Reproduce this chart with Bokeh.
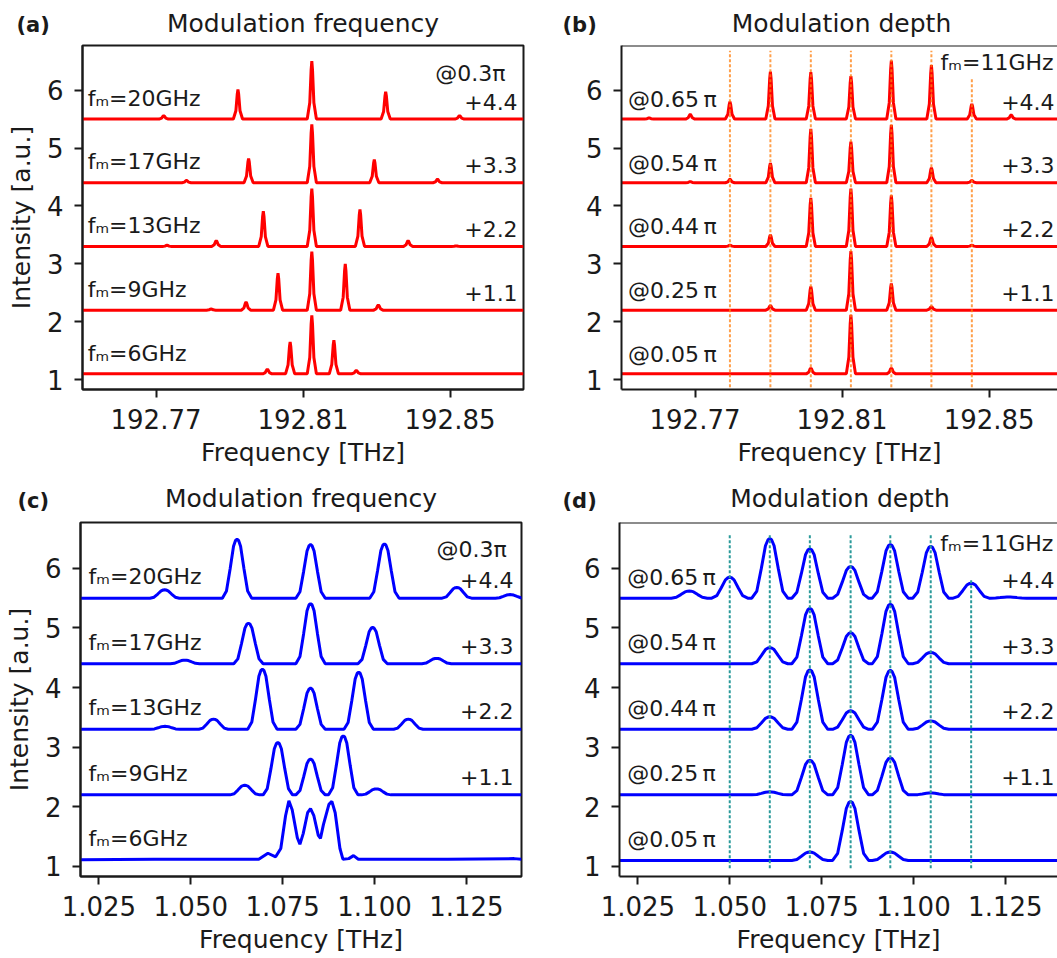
from bokeh.plotting import figure
from bokeh.layouts import column, row
from bokeh.models import FixedTicker, Range1d, Span, PrintfTickFormatter
from bokeh.core.properties import value
from bokeh.embed import file_html
from bokeh.resources import INLINE

FONT = "DejaVu Sans"
INK = "#1a1a1a"

# ---------------- data ----------------
trace_baselines = [5.5, 4.4, 3.3, 2.2, 1.1]
offset_labels = ["+4.4", "+3.3", "+2.2", "+1.1"]
y_ticks = [1, 2, 3, 4, 5, 6]
panel_letters = ["(a)", "(b)", "(c)", "(d)"]
panel_titles = ["Modulation frequency", "Modulation depth", "Modulation frequency", "Modulation depth"]

a_labels = ["fₘ=20GHz", "fₘ=17GHz", "fₘ=13GHz", "fₘ=9GHz", "fₘ=6GHz"]
a_peak_x = [
    [192.7721, 192.7923, 192.8124, 192.8325, 192.8526],
    [192.7783, 192.7952, 192.8124, 192.8294, 192.8466],
    [192.7730, 192.7864, 192.7992, 192.8124, 192.8255, 192.8386, 192.8517],
    [192.7850, 192.7945, 192.8032, 192.8124, 192.8215, 192.8305],
    [192.8003, 192.8065, 192.8124, 192.8184, 192.8245],
]
a_peak_y = [
    [5.56, 6.01, 6.50, 5.97, 5.56],
    [4.44, 4.82, 5.41, 4.80, 4.46],
    [3.32, 3.40, 3.91, 4.30, 3.94, 3.40, 3.31],
    [2.22, 2.34, 2.84, 3.21, 3.00, 2.29],
    [1.18, 1.65, 2.11, 1.68, 1.16],
]

b_labels = ["@0.65\u2009π", "@0.54\u2009π", "@0.44\u2009π", "@0.25\u2009π", "@0.05\u2009π"]
b_peak_x = [
    [192.7575, 192.7687, 192.7795, 192.7905, 192.8015, 192.8124, 192.8234, 192.8343, 192.8453, 192.8560],
    [192.7687, 192.7795, 192.7905, 192.8015, 192.8124, 192.8234, 192.8343, 192.8453],
    [192.7795, 192.7905, 192.8015, 192.8124, 192.8234, 192.8343, 192.8453],
    [192.7905, 192.8015, 192.8124, 192.8234, 192.8343],
    [192.8015, 192.8124, 192.8234],
]
b_peak_y = [
    [5.52, 5.58, 5.80, 6.32, 6.31, 6.24, 6.51, 6.43, 5.76, 5.57],
    [4.42, 4.46, 4.74, 5.33, 5.11, 5.40, 4.66, 4.44],
    [3.32, 3.50, 4.14, 4.30, 4.18, 3.46, 3.32],
    [2.28, 2.61, 3.22, 2.66, 2.26],
    [1.20, 2.12, 1.20],
]
b_lines_x = [192.7795, 192.7905, 192.8015, 192.8124, 192.8234, 192.8343, 192.8453]
b_lines_bottom = [0.87, 0.87, 0.87, 0.87, 0.87, 0.87, 0.87]
b_lines_top = [6.68, 6.68, 6.68, 6.68, 6.68, 6.68, 6.21]

c_labels = ["fₘ=20GHz", "fₘ=17GHz", "fₘ=13GHz", "fₘ=9GHz", "fₘ=6GHz"]
c_peak_x = [
    [1.0429, 1.0626, 1.0826, 1.1027, 1.1224, 1.1369],
    [1.0484, 1.0657, 1.0826, 1.0995, 1.1169],
    [1.0430, 1.0562, 1.0695, 1.0826, 1.0957, 1.1092],
    [1.0647, 1.0737, 1.0826, 1.0915, 1.1005],
    [],
]
c_peak_y = [
    [5.64, 6.49, 6.40, 6.41, 5.68, 5.56],
    [4.46, 5.08, 5.41, 5.01, 4.49],
    [3.35, 3.47, 4.31, 3.99, 4.26, 3.47],
    [2.36, 3.08, 2.80, 3.19, 2.30],
    [],
]
# fm=6GHz trace: overlapping peaks, read vertex by vertex
c_fm6_x = [1.0200, 1.0400, 1.0600, 1.0685, 1.0710, 1.0731, 1.0745, 1.0758, 1.0767, 1.0776,
           1.0790, 1.0797, 1.0806, 1.0818, 1.0826, 1.0835, 1.0847, 1.0853, 1.0861, 1.0876,
           1.0884, 1.0893, 1.0906, 1.0914, 1.0930, 1.0943, 1.0956, 1.1200, 1.1380, 1.1400]
c_fm6_y = [1.11, 1.12, 1.12, 1.12, 1.22, 1.16, 1.30, 1.85, 2.10, 1.95,
           1.48, 1.37, 1.55, 1.90, 1.97, 1.85, 1.52, 1.47, 1.70, 2.04,
           2.09, 1.90, 1.30, 1.12, 1.13, 1.18, 1.12, 1.12, 1.13, 1.12]

d_labels = ["@0.65\u2009π", "@0.54\u2009π", "@0.44\u2009π", "@0.25\u2009π", "@0.05\u2009π"]
d_peak_x = [
    [1.0390, 1.0500, 1.0609, 1.0718, 1.0829, 1.0937, 1.1047, 1.1157, 1.1259],
    [1.0609, 1.0718, 1.0829, 1.0937, 1.1047],
    [1.0609, 1.0718, 1.0829, 1.0937, 1.1047],
    [1.0609, 1.0718, 1.0829, 1.0937, 1.1047],
    [1.0718, 1.0829, 1.0937],
]
d_peak_y = [
    [5.62, 5.85, 6.50, 6.33, 6.03, 6.40, 6.37, 5.75, 5.52],
    [4.67, 5.33, 4.92, 5.40, 4.59],
    [3.51, 4.30, 3.61, 4.29, 3.44],
    [2.25, 2.78, 3.20, 2.82, 2.23],
    [1.24, 2.09, 1.24],
]
d_lines_x = [1.0500, 1.0609, 1.0718, 1.0829, 1.0937, 1.1047, 1.1157]
d_lines_bottom = [0.97, 0.97, 0.97, 0.97, 0.97, 0.97, 0.97]
d_lines_top = [6.58, 6.58, 6.58, 6.58, 6.58, 6.58, 5.80]

# ---------------- drawing helpers ----------------
SHAPE_NARROW = [(-1.0, 0.0), (-0.45, 0.28), (-0.15, 0.85), (0.0, 1.0), (0.15, 0.85), (0.45, 0.28), (1.0, 0.0)]
SHAPE_BROAD = [(-1.0, 0.0), (-0.72, 0.12), (-0.47, 0.5), (-0.24, 0.88), (-0.1, 0.98), (0.0, 1.0),
               (0.1, 0.98), (0.24, 0.88), (0.47, 0.5), (0.72, 0.12), (1.0, 0.0)]


def trace_xy(base, px, py, hw, shape, x0, x1):
    xs, ys = [x0], [base]
    for c, t in zip(px, py):
        for f, g in shape:
            xs.append(c + f * hw)
            ys.append(base + g * (t - base))
    xs.append(x1)
    ys.append(base)
    return xs, ys


Y_RANGE = (0.83, 6.77)


def make_header(height, letters, letter_x, letter_mid, titles, title_x, title_mid):
    # a text-only strip: x in pixels from the left, y in pixels down from the top
    h = figure(width=1057, height=height, x_range=Range1d(0, 1057), y_range=Range1d(0, height),
               x_axis_type=None, y_axis_type=None, min_border=0, output_backend="svg",
               toolbar_location=None)
    h.outline_line_color = None
    h.background_fill_color = "white"
    h.border_fill_color = "white"
    h.text(x=letter_x, y=[height - letter_mid] * len(letters), text=letters, text_font=value(FONT),
           text_font_size="21px", text_font_style="bold", text_color=INK,
           text_align="left", text_baseline="middle")
    h.text(x=title_x, y=[height - title_mid] * len(titles), text=titles, text_font=value(FONT),
           text_font_size="25px", text_color=INK, text_align="center", text_baseline="middle")
    return h


def make_panel(width, height, left, right, top, bottom, xr, xticks, xfmt, ylabel, outline):
    p = figure(width=width, height=height, x_range=Range1d(*xr), y_range=Range1d(*Y_RANGE),
               output_backend="svg", toolbar_location=None,
               min_border_left=left, min_border_right=right,
               min_border_top=top, min_border_bottom=bottom)
    p.xgrid.visible = False
    p.ygrid.visible = False
    p.background_fill_color = "white"
    p.border_fill_color = "white"
    if outline:
        p.outline_line_color = INK
        p.outline_line_width = 2
        p.outline_line_alpha = 1.0
    else:
        p.outline_line_color = None
        p.add_layout(Span(location=Y_RANGE[1], dimension="width", line_color=INK, line_width=2))
    p.xaxis.ticker = FixedTicker(ticks=xticks)
    p.xaxis.formatter = PrintfTickFormatter(format=xfmt)
    p.yaxis.ticker = FixedTicker(ticks=y_ticks)
    for ax in (p.xaxis[0], p.yaxis[0]):
        ax.major_label_text_font = FONT
        ax.major_label_text_font_size = "26px"
        ax.major_label_text_color = INK
        ax.axis_label_text_font = FONT
        ax.axis_label_text_font_size = "25px"
        ax.axis_label_text_font_style = "normal"
        ax.axis_label_text_color = INK
        ax.axis_line_width = 2
        ax.axis_line_color = INK
        ax.major_tick_line_width = 2
        ax.major_tick_line_color = INK
        ax.major_tick_out = 8
        ax.major_tick_in = 0
        ax.minor_tick_line_color = None
    p.yaxis.major_label_standoff = 11
    p.xaxis.major_label_standoff = 11
    p.xaxis.axis_label = "Frequency [THz]"
    p.xaxis.axis_label_standoff = 6
    if ylabel:
        p.yaxis.axis_label = ylabel
        p.yaxis.axis_label_standoff = 8
    return p


def add_texts(p, xs, ys, texts, align):
    p.text(x=xs, y=ys, text=texts, text_font=value(FONT), text_font_size="22px",
           text_align=align, text_baseline="middle", text_color=INK)


# ---------------- headers (panel letters and titles) ----------------
head1 = make_header(44, panel_letters[:2], [16, 562], 24, panel_titles[:2], [302.5, 841], 23)
head2 = make_header(51, panel_letters[2:], [17, 562], 30, panel_titles[2:], [300.5, 839.5], 28)

# ---------------- (a) ----------------
AX = (192.75, 192.87)
pa = make_panel(527, 426, 82, 4, 1, 81, AX, [192.77, 192.81, 192.85], "%.2f", "Intensity [a.u.]", True)
for base, px, py in zip(trace_baselines, a_peak_x, a_peak_y):
    xs, ys = trace_xy(base, px, py, 0.00125, SHAPE_NARROW, AX[0], AX[1])
    pa.line(xs, ys, line_color="#ff0000", line_width=3)
add_texts(pa, [192.7514] * 5, [b + 0.36 for b in trace_baselines], a_labels, "left")
add_texts(pa, [192.8684] * 4, [b + 0.30 for b in trace_baselines[:4]], offset_labels, "right")
add_texts(pa, [192.8651], [6.29], ["@0.3π"], "right")

# ---------------- (b) ----------------
BX = (192.75, 192.8686)
pb = make_panel(530, 426, 94, 0, 1, 81, BX, [192.77, 192.81, 192.85], "%.2f", None, False)
for base, px, py in zip(trace_baselines, b_peak_x, b_peak_y):
    xs, ys = trace_xy(base, px, py, 0.00125, SHAPE_NARROW, BX[0], BX[1])
    pb.line(xs, ys, line_color="#ff0000", line_width=3)
pb.segment(x0=b_lines_x, y0=b_lines_bottom, x1=b_lines_x, y1=b_lines_top,
           line_color="#ff7f0e", line_alpha=0.75, line_width=2, line_dash="3 2")
add_texts(pb, [192.7518] * 5, [b + 0.34 for b in trace_baselines], b_labels, "left")
add_texts(pb, [192.8678] * 4, [b + 0.30 for b in trace_baselines[:4]], offset_labels, "right")
add_texts(pb, [192.8368], [6.47], ["fₘ=11GHz"], "left")

# ---------------- (c) ----------------
CX = (1.020, 1.140)
pc = make_panel(527, 437, 80, 6, 1, 82, CX, [1.025, 1.050, 1.075, 1.100, 1.125], "%.3f",
                "Intensity [a.u.]", True)
for base, px, py in zip(trace_baselines, c_peak_x, c_peak_y):
    if px:
        xs, ys = trace_xy(base, px, py, 0.0040, SHAPE_BROAD, CX[0], CX[1])
    else:
        xs, ys = c_fm6_x, c_fm6_y
    pc.line(xs, ys, line_color="#0000ff", line_width=3)
add_texts(pc, [1.0222] * 5, [b + 0.36 for b in trace_baselines], c_labels, "left")
add_texts(pc, [1.1378] * 4, [b + 0.30 for b in trace_baselines[:4]], offset_labels, "right")
add_texts(pc, [1.1360], [6.32], ["@0.3π"], "right")

# ---------------- (d) ----------------
DX = (1.020, 1.1392)
pd = make_panel(530, 437, 92, 0, 1, 82, DX, [1.025, 1.050, 1.075, 1.100, 1.125], "%.3f", None, False)
for base, px, py in zip(trace_baselines, d_peak_x, d_peak_y):
    xs, ys = trace_xy(base, px, py, 0.0049, SHAPE_BROAD, DX[0], DX[1])
    pd.line(xs, ys, line_color="#0000ff", line_width=3)
pd.segment(x0=d_lines_x, y0=d_lines_bottom, x1=d_lines_x, y1=d_lines_top,
           line_color="#2a9a9a", line_alpha=1.0, line_width=2, line_dash="3 2")
add_texts(pd, [1.0221] * 5, [b + 0.35 for b in trace_baselines], d_labels, "left")
add_texts(pd, [1.1384] * 4, [b + 0.30 for b in trace_baselines[:4]], offset_labels, "right")
add_texts(pd, [1.1073], [6.42], ["fₘ=11GHz"], "left")

layout = column(head1, row(pa, pb), head2, row(pc, pd))
open("out.html", "w").write(file_html(layout, INLINE))
